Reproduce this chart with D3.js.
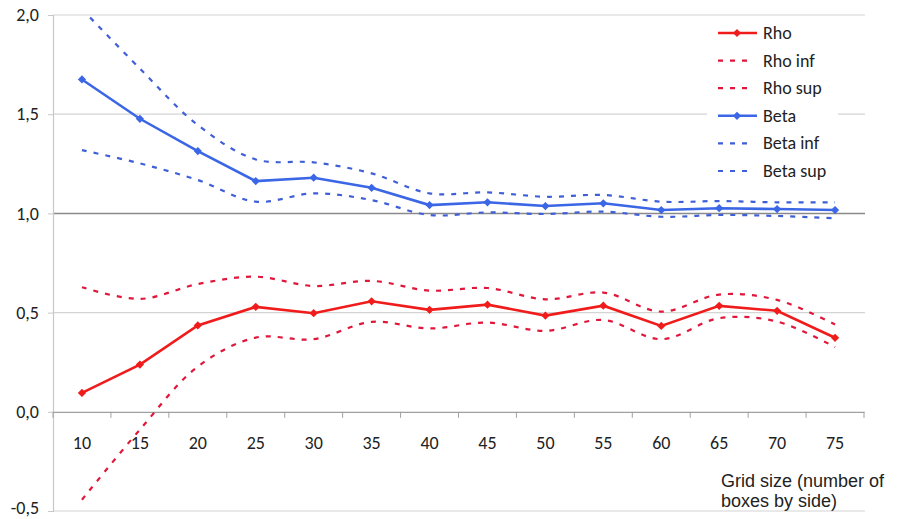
<!DOCTYPE html>
<html>
<head>
<meta charset="utf-8">
<script src="https://cdn.jsdelivr.net/npm/d3@7"></script>
<style>
	body { margin: 0; background: #fff; }
	svg { display: block; }
	.tick-label { font-family: Carlito, Calibri, Lato, sans-serif; font-size: 18px; fill: #222; }
	.legend-label { font-family: Carlito, Calibri, Lato, sans-serif; font-size: 18px; fill: #222; }
	.axis-title { font-family: "Liberation Sans", Arial, sans-serif; font-size: 18px; fill: #222; }
</style>
</head>
<body>
<script>
var WIDTH = 898, HEIGHT = 519;
var PLOT = {left: 53, right: 864, top: 15, bottom: 511};

// data
var gridSizes = [10, 15, 20, 25, 30, 35, 40, 45, 50, 55, 60, 65, 70, 75];
var rho     = [0.095, 0.238, 0.435, 0.529, 0.497, 0.557, 0.514, 0.540, 0.485, 0.535, 0.433, 0.534, 0.509, 0.373];
var rhoInf  = [-0.443, -0.09, 0.228, 0.374, 0.366, 0.453, 0.420, 0.450, 0.408, 0.463, 0.366, 0.472, 0.455, 0.326];
var rhoSup  = [0.628, 0.569, 0.644, 0.681, 0.634, 0.660, 0.611, 0.624, 0.567, 0.601, 0.505, 0.591, 0.564, 0.440];
var beta    = [1.675, 1.477, 1.314, 1.163, 1.180, 1.129, 1.042, 1.056, 1.037, 1.051, 1.017, 1.026, 1.022, 1.017];
var betaInf = [1.319, 1.252, 1.168, 1.059, 1.101, 1.067, 0.992, 1.005, 0.997, 1.009, 0.983, 0.992, 0.987, 0.975];
var betaSup = [2.03, 1.73, 1.445, 1.272, 1.257, 1.202, 1.101, 1.106, 1.084, 1.093, 1.059, 1.062, 1.056, 1.056];
var yTicks = [-0.5, 0, 0.5, 1, 1.5, 2];

var RED = "#f01c1c", RED_DASH = "#e0163a", BLUE = "#3b66e6", BLUE_DASH = "#3f5fd9";

var series = [
	{name: "Rho", values: rho, color: RED, dashed: false},
	{name: "Rho inf", values: rhoInf, color: RED_DASH, dashed: true},
	{name: "Rho sup", values: rhoSup, color: RED_DASH, dashed: true},
	{name: "Beta", values: beta, color: BLUE, dashed: false},
	{name: "Beta inf", values: betaInf, color: BLUE_DASH, dashed: true},
	{name: "Beta sup", values: betaSup, color: BLUE_DASH, dashed: true}
];

var fmt = function(v){ return d3.format(".1f")(v).replace(".", ",").replace("−", "-"); };

var svg = d3.select("body").append("svg")
		.attr("width", WIDTH)
		.attr("height", HEIGHT);

var xScale = d3.scaleBand().domain(gridSizes).range([PLOT.left, PLOT.right]).padding(0);
var yScale = d3.scaleLinear().domain([-0.5, 2]).range([PLOT.bottom, PLOT.top]);
var cx = function(i){ return xScale(gridSizes[i]) + xScale.bandwidth() / 2; };

svg.append("clipPath").attr("id", "plot-clip")
	.append("rect")
		.attr("x", PLOT.left).attr("y", PLOT.top)
		.attr("width", PLOT.right - PLOT.left + 2).attr("height", PLOT.bottom - PLOT.top);

// gridlines
svg.append("g").selectAll("line").data(yTicks.filter(function(d){ return d !== 0; }))
	.enter().append("line")
		.attr("x1", PLOT.left).attr("x2", PLOT.right + 1)
		.attr("y1", function(d){ return yScale(d); })
		.attr("y2", function(d){ return yScale(d); })
		.attr("stroke", function(d){ return d === 1 ? "#8a8a8a" : "#d4d4d4"; })
		.attr("stroke-width", function(d){ return d === 1 ? 1.5 : 1.2; });

// y axis
var yAxis = d3.axisLeft(yScale).tickValues(yTicks).tickSize(5).tickPadding(9).tickFormat(fmt);
var gy = svg.append("g").attr("transform", "translate(" + PLOT.left + ",0)").call(yAxis);
gy.select(".domain").attr("stroke", "#c8c8c8").attr("stroke-width", 1.2);
gy.selectAll(".tick line").attr("stroke", "#c8c8c8");
gy.selectAll(".tick text").attr("class", "tick-label").attr("font-family", null).attr("font-size", null)
	.attr("y", function(d){ return d === -0.5 ? -3 : 0; });

// x axis at zero with ticks on band edges
var xAxis = d3.axisBottom(xScale).tickSize(0).tickPadding(24);
var gx = svg.append("g").attr("transform", "translate(0," + yScale(0) + ")").call(xAxis);
gx.select(".domain").attr("stroke", "#a0a0a0").attr("stroke-width", 1.2);
gx.selectAll(".tick text").attr("class", "tick-label").attr("font-family", null).attr("font-size", null);
gx.selectAll(".edge").data(gridSizes.concat(["end"]))
	.enter().append("line")
		.attr("class", "edge")
		.attr("x1", function(d){ return d === "end" ? PLOT.right : xScale(d); })
		.attr("x2", function(d){ return d === "end" ? PLOT.right : xScale(d); })
		.attr("y1", 0).attr("y2", 6)
		.attr("stroke", "#a0a0a0");

// series
var straight = d3.line()
		.x(function(d, i){ return cx(i); })
		.y(function(d){ return yScale(d); });
var smooth = d3.line()
		.x(function(d, i){ return cx(i); })
		.y(function(d){ return yScale(d); })
		.curve(d3.curveCatmullRom.alpha(0.5));

var plot = svg.append("g").attr("clip-path", "url(#plot-clip)");

plot.selectAll(".dash").data(series.filter(function(s){ return s.dashed; }))
	.enter().append("path")
		.attr("class", "dash")
		.attr("d", function(s){ return smooth(s.values); })
		.attr("fill", "none")
		.attr("stroke", function(s){ return s.color; })
		.attr("stroke-width", 2.2)
		.attr("stroke-dasharray", "5,7");

var solid = series.filter(function(s){ return !s.dashed; });
plot.selectAll(".solid").data(solid)
	.enter().append("path")
		.attr("class", "solid")
		.attr("d", function(s){ return straight(s.values); })
		.attr("fill", "none")
		.attr("stroke", function(s){ return s.color; })
		.attr("stroke-width", 2.6);

var marker = d3.symbol().type(d3.symbolSquare).size(34);
solid.forEach(function(s){
	plot.append("g").selectAll("path").data(s.values)
		.enter().append("path")
			.attr("d", marker)
			.attr("transform", function(d, i){ return "translate(" + cx(i) + "," + yScale(d) + ") rotate(45)"; })
			.attr("fill", s.color);
});

// legend
var legend = svg.append("g").attr("transform", "translate(707,18)");
legend.append("rect").attr("width", 131).attr("height", 168).attr("fill", "#fff");
var items = legend.selectAll(".item").data(series)
	.enter().append("g")
		.attr("class", "item")
		.attr("transform", function(d, i){ return "translate(0," + (15 + i * 27.6) + ")"; });
items.append("line")
		.attr("x1", 11).attr("x2", function(s){ return s.dashed ? 46 : 50; })
		.attr("y1", 0).attr("y2", 0)
		.attr("stroke", function(s){ return s.color; })
		.attr("stroke-width", function(s){ return s.dashed ? 2.2 : 2.6; })
		.attr("stroke-dasharray", function(s){ return s.dashed ? "5,7" : null; });
items.filter(function(s){ return !s.dashed; }).append("path")
		.attr("d", marker)
		.attr("transform", "translate(30,0) rotate(45)")
		.attr("fill", function(s){ return s.color; });
items.append("text")
		.attr("class", "legend-label")
		.attr("x", 56).attr("y", 6)
		.text(function(s){ return s.name; });

// axis title
var title = svg.append("text").attr("class", "axis-title").attr("x", 721).attr("y", 487);
title.append("tspan").attr("x", 721).text("Grid size (number of");
title.append("tspan").attr("x", 721).attr("dy", 20).text("boxes by side)");
</script>
</body>
</html>
